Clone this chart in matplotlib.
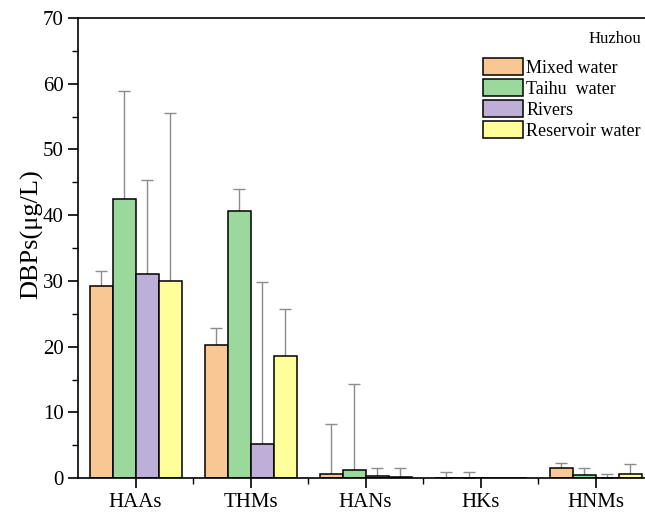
import numpy as np
import matplotlib
matplotlib.use("Agg")
import matplotlib.pyplot as plt
from matplotlib.ticker import MultipleLocator

plt.rcParams['font.family'] = ['Liberation Serif', 'DejaVu Serif']

categories = ["HAAs", "THMs", "HANs", "HKs", "HNMs"]
series = ["Mixed water", "Taihu  water", "Rivers", "Reservoir water"]
colors = ["#F9C794", "#9AD89B", "#BDAFD8", "#FFFF99"]

mixed = [29.2, 20.2, 0.6, 0.0, 1.6]
taihu = [42.5, 40.6, 1.2, 0.0, 0.5]
rivers = [31.0, 5.2, 0.3, 0.0, 0.05]
reservoir = [30.0, 18.6, 0.2, 0.0, 0.6]

# upper error bar ends (value + sd)
mixed_top = [31.5, 22.8, 8.3, 1.0, 2.3]
taihu_top = [58.9, 44.0, 14.3, 1.0, 1.5]
rivers_top = [45.3, 29.9, 1.5, 0.0, 0.7]
reservoir_top = [55.5, 25.7, 1.5, 0.0, 2.2]

values = [mixed, taihu, rivers, reservoir]
tops = [mixed_top, taihu_top, rivers_top, reservoir_top]

fig = plt.figure(figsize=(6.45, 5.12), dpi=100)
ax = fig.add_axes([0.121, 0.066, 0.879, 0.899])

x = np.arange(len(categories))
w = 0.2
for i in range(4):
    v = np.array(values[i])
    err = np.clip(np.array(tops[i]) - v, 0, None)
    pos = x + (i - 1.5) * w
    ax.bar(pos, v, w, color=colors[i], edgecolor='black', linewidth=1.1,
           label=series[i], zorder=2)
    mask = err > 0
    ax.errorbar(pos[mask], v[mask], yerr=[np.zeros(mask.sum()), err[mask]],
                fmt='none', ecolor='#8c8c8c', elinewidth=1.0, capsize=4,
                capthick=1.0, zorder=1)

ax.set_xlim(-0.5, 4.43)
ax.set_ylim(0, 70)
ax.set_xticks(x)
ax.set_xticklabels(categories)
ax.set_xticks(x[:-1] + 0.5, minor=True)
ax.yaxis.set_major_locator(MultipleLocator(10))
ax.yaxis.set_minor_locator(MultipleLocator(5))
ax.tick_params(axis='both', which='major', labelsize=15, length=7, width=1.2)
ax.tick_params(axis='both', which='minor', length=4, width=1.0)
ax.spines['right'].set_visible(False)
for s in ['left', 'bottom', 'top']:
    ax.spines[s].set_linewidth(1.2)
ax.set_ylabel("DBPs(μg/L)", fontsize=19)
ax.yaxis.set_label_coords(-0.062, 0.53)

leg = ax.legend(loc='upper right', bbox_to_anchor=(1.012, 0.995), frameon=False,
                fontsize=13, handlelength=2.2, handleheight=1.1,
                labelspacing=0.12, handletextpad=0.2, borderaxespad=0.2,
                title="Huzhou", title_fontsize=12, alignment='right')
leg._legend_box.sep = 8

fig.savefig("out.png", dpi=100)
